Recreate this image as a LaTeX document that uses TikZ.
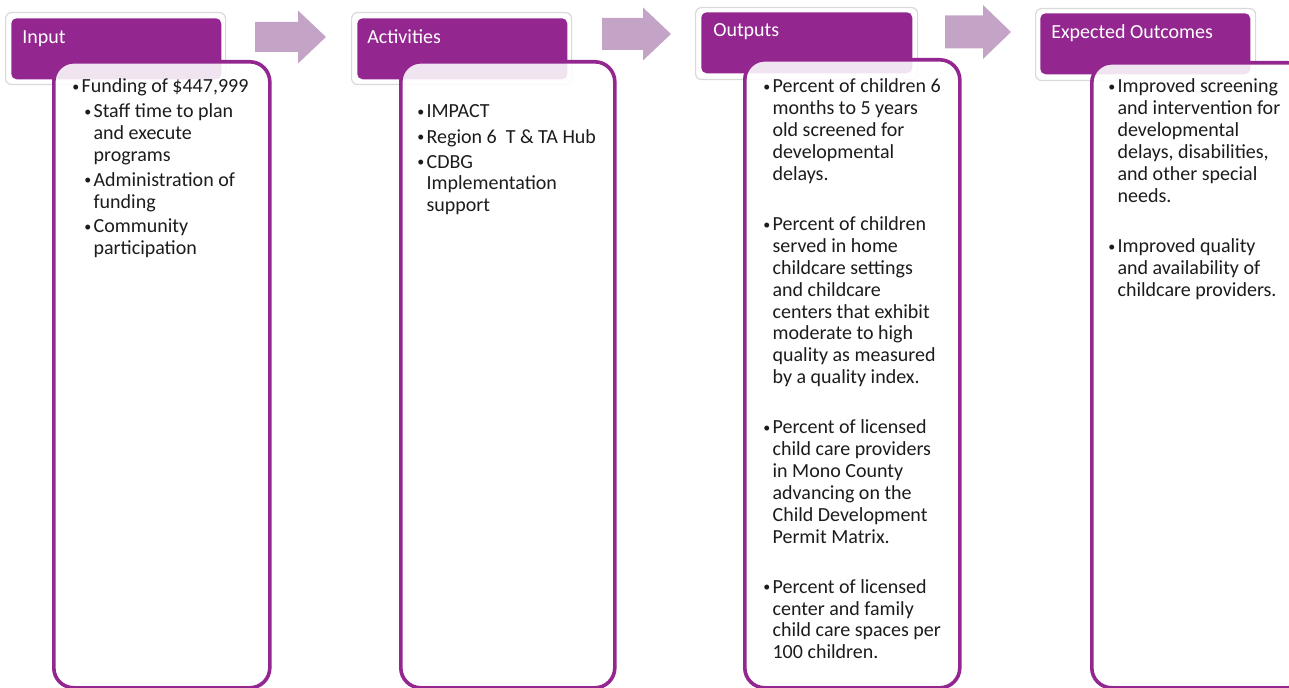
\documentclass[tikz,border=0pt]{standalone}
\usepackage{fontspec}
\setmainfont{Carlito}
\usepackage{graphicx}
\usepackage{xcolor}
\usepackage{tikz}
\definecolor{lmpurple}{RGB}{147,39,143}
\definecolor{lmarrow}{RGB}{196,164,198}
\definecolor{lmframe}{RGB}{217,217,217}
\definecolor{lmtext}{RGB}{28,28,28}
\newcommand{\lmbul}{\makebox[7pt][l]{\raisebox{1pt}{\scalebox{0.7}{\textbullet}}}}
\newcommand{\lmind}{\hspace*{7pt}}
\newcommand{\lmsub}{\hspace*{9pt}}

\begin{document}
\begin{tikzpicture}[x=0.75pt, y=-0.75pt,
  headframe/.style={draw=lmframe, fill=white, line width=0.9pt, rounded corners=4.5pt, anchor=north west, minimum width=165pt, minimum height=54pt, inner sep=0pt},
  headbox/.style={fill=lmpurple, rounded corners=4pt, anchor=north west, minimum width=157.5pt, minimum height=45.75pt, inner sep=0pt},
  headtext/.style={anchor=base west, inner sep=0pt, text=white, font=\fontsize{15}{16.4}\selectfont},
  bodybox/.style={draw=lmpurple, line width=2.7pt, fill=white, fill opacity=0.88, rounded corners=15pt, anchor=north west, minimum width=162pt, inner sep=0pt},
  bodytext/.style={anchor=base west, inner sep=0pt, text=lmtext, font=\fontsize{15}{16.4}\selectfont}]
  \useasboundingbox (0,0) rectangle (1289,688);
  \clip (0,0) rectangle (1289,688);

  % header frames and headers
  \node[headframe] (inputframe) at (5,12) {};
  \node[headbox] (inputhead) at (11,18) {};
  \node[headframe] (actframe) at (351,12) {};
  \node[headbox] (acthead) at (357,18) {};
  \node[headframe, minimum width=166.5pt] (outframe) at (695,7) {};
  \node[headbox, minimum width=158.25pt] (outhead) at (701,12) {};
  \node[headframe] (expframe) at (1035,8) {};
  \node[headbox] (exphead) at (1040,13) {};

  % block arrows between the headers
  \foreach \ax/\ae/\at/\ay/\sh/\hh in {255/298/326/37/15/26.5, 602/643/671/34/16/26.5, 945/983/1011/32/16.5/27}
    \fill[lmarrow] (\ax,\ay-\sh) -- (\ae,\ay-\sh) -- (\ae,\ay-\hh) -- (\at,\ay) -- (\ae,\ay+\hh) -- (\ae,\ay+\sh) -- (\ax,\ay+\sh) -- cycle;

  % bodies
  \node[bodybox, minimum height=469.5pt] (inputbody) at (52,60) {};
  \node[bodybox, minimum width=160.5pt, minimum height=469.5pt] (actbody) at (399,60) {};
  \node[bodybox, minimum width=161.25pt, minimum height=471pt] (outbody) at (743,58) {};
  \node[bodybox, minimum height=468.75pt] (expbody) at (1090,61) {};

  % header texts
  \node[headtext] (inputtitle) at (22,44) {Input};
  \node[headtext] (acttitle) at (367,44) {Activities};
  \node[headtext] (outtitle) at (713,37) {Outputs};
  \node[headtext] (exptitle) at (1051,39) {Expected Outcomes};

  % body texts
  \node[bodytext] (inputlist) at (72,93) {\begin{tabular}[t]{@{}l@{}}
    \lmbul Funding of \$447,999\\[2.2pt]
    \lmsub\lmbul Staff time to plan\\
    \lmsub\lmind and execute\\
    \lmsub\lmind programs\\[2.2pt]
    \lmsub\lmbul Administration of\\
    \lmsub\lmind funding\\[2.2pt]
    \lmsub\lmbul Community\\
    \lmsub\lmind participation
  \end{tabular}};
  \node[bodytext] (actlist) at (417,118) {\begin{tabular}[t]{@{}l@{}}
    \lmbul IMPACT\\[2.6pt]
    \lmbul Region 6\ \ T \& TA Hub\\[2.2pt]
    \lmbul CDBG\\
    \lmind Implementation\\
    \lmind support
  \end{tabular}};
  \node[bodytext] (outlist) at (763,93) {\begin{tabular}[t]{@{}l@{}}
    \lmbul Percent of children 6\\
    \lmind months to 5 years\\
    \lmind old screened for\\
    \lmind developmental\\
    \lmind delays.\\[21.2pt]
    \lmbul Percent of children\\
    \lmind served in home\\
    \lmind childcare settings\\
    \lmind and childcare\\
    \lmind centers that exhibit\\
    \lmind moderate to high\\
    \lmind quality as measured\\
    \lmind by a quality index.\\[21.2pt]
    \lmbul Percent of licensed\\
    \lmind child care providers\\
    \lmind in Mono County\\
    \lmind advancing on the\\
    \lmind Child Development\\
    \lmind Permit Matrix.\\[21.2pt]
    \lmbul Percent of licensed\\
    \lmind center and family\\
    \lmind child care spaces per\\
    \lmind 100 children.
  \end{tabular}};
  \node[bodytext] (explist) at (1108,93) {\begin{tabular}[t]{@{}l@{}}
    \lmbul Improved screening\\
    \lmind and intervention for\\
    \lmind developmental\\
    \lmind delays, disabilities,\\
    \lmind and other special\\
    \lmind needs.\\[21.2pt]
    \lmbul Improved quality\\
    \lmind and availability of\\
    \lmind childcare providers.
  \end{tabular}};
\end{tikzpicture}
\end{document}
